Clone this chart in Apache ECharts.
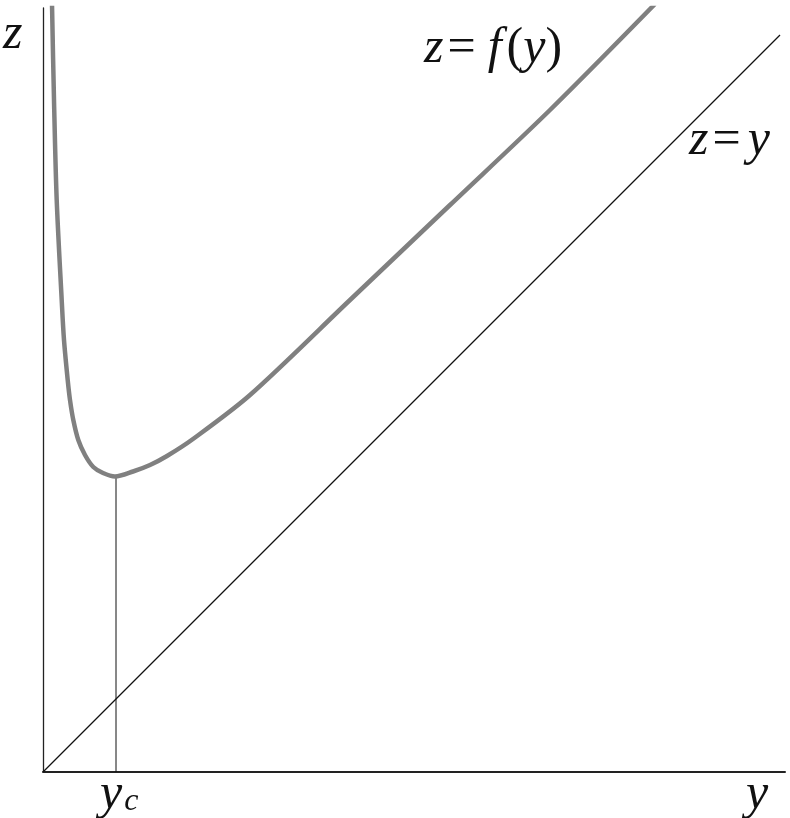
<!DOCTYPE html>
<html>
<head>
<meta charset="utf-8">
<style>
  html, body { margin: 0; padding: 0; background: #fff; }
  #container { width: 790px; height: 818px; }
</style>
<script src="https://cdn.jsdelivr.net/npm/echarts@6/dist/echarts.min.js"></script>
</head>
<body>
<div id="container"></div>
<script>
// curve z = f(y)
var curveY = [0.09, 0.11, 0.137, 0.187, 0.21, 0.247, 0.27, 0.303, 0.353, 0.42, 0.503, 0.60, 0.72, 0.90, 1.07, 1.24, 1.50, 2.07, 3.07, 4.07, 5.07, 6.12];
var curveZ = [7.68, 6.72, 5.72, 4.72, 4.32, 3.92, 3.72, 3.52, 3.32, 3.17, 3.05, 2.99, 2.955, 3.005, 3.07, 3.16, 3.33, 3.77, 4.72, 5.67, 6.62, 7.68];
// diagonal z = y
var diagY = [0, 7.37];
// y_c marker
var yc = 0.73;
var zAtYc = 2.955;

var dom = document.getElementById("container");
var myChart = echarts.init(dom, null, { renderer: "canvas" });

var serif = "'Liberation Serif', 'DejaVu Serif', serif";
var richStyle = {
  i: { fontFamily: serif, fontStyle: "italic", fontSize: 50, fill: "#111" },
  f: { fontFamily: serif, fontStyle: "italic", fontSize: 50, fill: "#111", padding: [0, 5, 0, 5] },
  n: { fontFamily: serif, fontSize: 50, fill: "#111" },
  e: { fontFamily: serif, fontSize: 50, fill: "#111", padding: [0, 7, 0, 4] },
  s: { fontFamily: serif, fontStyle: "italic", fontSize: 32, fill: "#111", padding: [14, 0, 0, 2] }
};

var option = {
  animation: false,
  grid: { left: 43, right: 5, top: 8, bottom: 46 },
  xAxis: {
    type: "value",
    min: 0,
    max: 7.42,
    axisLine: { show: true, lineStyle: { color: "#222", width: 2 } },
    axisTick: { show: false },
    axisLabel: { show: false },
    splitLine: { show: false }
  },
  yAxis: {
    type: "value",
    min: 0,
    max: 7.64,
    axisLine: { show: true, lineStyle: { color: "#222", width: 1.3 } },
    axisTick: { show: false },
    axisLabel: { show: false },
    splitLine: { show: false }
  },
  series: [
    {
      type: "line",
      data: diagY.map(function (v) { return [v, v]; }),
      symbol: "none",
      lineStyle: { color: "#111", width: 1.3 }
    },
    {
      type: "line",
      data: [[yc, 0], [yc, zAtYc]],
      symbol: "none",
      lineStyle: { color: "#111", width: 1 }
    },
    {
      type: "line",
      data: curveY.map(function (v, i) { return [v, curveZ[i]]; }),
      smooth: 0.3,
      symbol: "none",
      lineStyle: { color: "#808080", width: 4.5 }
    }
  ],
  graphic: [
    { type: "text", left: 3, top: 10, style: { text: "{i|z}", rich: richStyle } },
    { type: "text", left: 424, top: 24, style: { text: "{i|z}{e|=}{f|f}{n|(}{i|y}{n|)}", rich: richStyle } },
    { type: "text", left: 689, top: 116, style: { text: "{i|z}{e|=}{i|y}", rich: richStyle } },
    { type: "text", left: 100, top: 770, style: { text: "{i|y}{s|c}", rich: richStyle } },
    { type: "text", left: 746, top: 770, style: { text: "{i|y}", rich: richStyle } }
  ]
};

myChart.setOption(option);
window.addEventListener("resize", myChart.resize);
</script>
</body>
</html>
